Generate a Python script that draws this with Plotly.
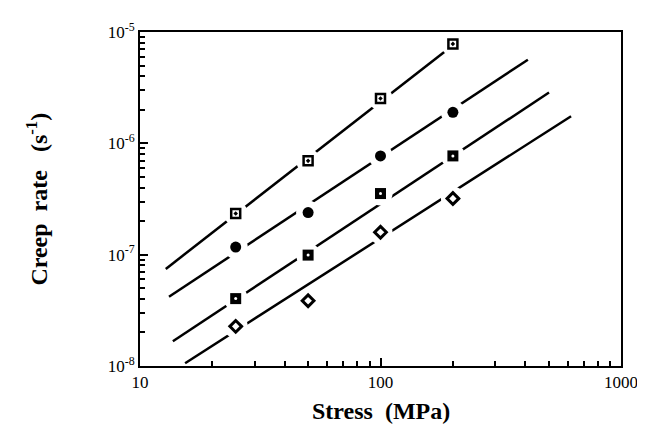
import plotly.graph_objects as go

# stress (MPa) of the measured points
stress = [25, 50, 100, 200]

# creep rate (1/s) for the four series, top to bottom
rate_a = [2.34e-7, 6.96e-7, 2.53e-6, 7.82e-6]
rate_b = [1.17e-7, 2.39e-7, 7.71e-7, 1.90e-6]
rate_c = [4.03e-8, 9.91e-8, 3.54e-7, 7.71e-7]
rate_d = [2.27e-8, 3.86e-8, 1.59e-7, 3.19e-7]

# fitted lines (end points)
fit_a_x = [12.8, 187]
fit_a_y = [7.45e-8, 6.78e-6]
fit_b_x = [13.2, 410]
fit_b_y = [4.19e-8, 5.64e-6]
fit_c_x = [13.7, 502]
fit_c_y = [1.67e-8, 2.86e-6]
fit_d_x = [15.4, 620]
fit_d_y = [1.06e-8, 1.75e-6]

x_ticks = [10, 100, 1000]
x_labels = ["10", "100", "1000"]
y_ticks = [1e-8, 1e-7, 1e-6, 1e-5]
y_labels = ["10<sup>-8</sup>", "10<sup>-7</sup>", "10<sup>-6</sup>", "10<sup>-5</sup>"]

x_minor = [m * 10 ** e for e in (1, 2) for m in range(2, 10)]
y_minor = [m * 10.0 ** e for e in (-8, -7, -6) for m in range(2, 10)]

FONT = "Liberation Serif, Times New Roman, serif"

fig = go.Figure()

# fitted lines on the base axes
for fx, fy in [(fit_a_x, fit_a_y), (fit_b_x, fit_b_y),
               (fit_c_x, fit_c_y), (fit_d_x, fit_d_y)]:
    fig.add_trace(go.Scatter(x=fx, y=fy, mode="lines",
                             line=dict(color="black", width=2.5),
                             hoverinfo="skip"))

# markers go on an overlaying pair of axes so they sit above the lines
# white halo behind each marker so the lines look broken there
for ys in [rate_a, rate_b, rate_c, rate_d]:
    fig.add_trace(go.Scatter(x=stress, y=ys, mode="markers", xaxis="x2", yaxis="y2",
                             marker=dict(symbol="circle", size=24, color="#ffffff",
                                         opacity=1, line=dict(width=0)),
                             hoverinfo="skip"))

# series A: open square with dot
fig.add_trace(go.Scatter(x=stress, y=rate_a, mode="markers", xaxis="x2", yaxis="y2",
                         marker=dict(symbol="square-open-dot", size=9, color="black",
                                     line=dict(width=2.5, color="black"))))
# series B: filled circle
fig.add_trace(go.Scatter(x=stress, y=rate_b, mode="markers", xaxis="x2", yaxis="y2",
                         marker=dict(symbol="circle", size=11, color="black",
                                     line=dict(width=0))))
# series C: filled square with white centre
fig.add_trace(go.Scatter(x=stress, y=rate_c, mode="markers", xaxis="x2", yaxis="y2",
                         marker=dict(symbol="square", size=11, color="black",
                                     line=dict(width=0))))
fig.add_trace(go.Scatter(x=stress, y=rate_c, mode="markers", xaxis="x2", yaxis="y2",
                         marker=dict(symbol="circle", size=3, color="white",
                                     line=dict(width=0))))
# series D: open diamond
fig.add_trace(go.Scatter(x=stress, y=rate_d, mode="markers", xaxis="x2", yaxis="y2",
                         marker=dict(symbol="diamond-open", size=9, color="black",
                                     line=dict(width=3, color="black"))))

fig.update_layout(
    xaxis=dict(type="log", range=[1, 3],
               tickvals=x_ticks, ticktext=x_labels,
               ticks="inside", ticklen=8, tickwidth=1.5, tickcolor="black",
               minor=dict(tickvals=x_minor, ticks="inside", ticklen=5,
                          tickwidth=1.5, tickcolor="black"),
               showline=True, linecolor="black", linewidth=2, mirror=True,
               showgrid=False, zeroline=False,
               tickfont=dict(family=FONT, size=17, color="black")),
    yaxis=dict(type="log", range=[-8, -5],
               tickvals=y_ticks, ticktext=y_labels,
               ticks="inside", ticklen=8, tickwidth=1.5, tickcolor="black",
               minor=dict(tickvals=y_minor, ticks="inside", ticklen=5,
                          tickwidth=1.5, tickcolor="black"),
               showline=True, linecolor="black", linewidth=2, mirror=True,
               showgrid=False, zeroline=False,
               tickfont=dict(family=FONT, size=17, color="black")),
    xaxis2=dict(type="log", range=[1, 3], overlaying="x", visible=False),
    yaxis2=dict(type="log", range=[-8, -5], overlaying="y", visible=False),
)

fig.add_annotation(text="<b>Stress  (MPa)</b>", xref="paper", yref="paper",
                   x=0.5, y=-0.135, xanchor="center", yanchor="middle",
                   showarrow=False, font=dict(family=FONT, size=24, color="black"))
fig.add_annotation(text="<b>Creep  rate   (s<sup>-1</sup>)</b>", xref="paper", yref="paper",
                   x=-0.215, y=0.5, xanchor="center", yanchor="middle", textangle=-90,
                   showarrow=False, font=dict(family=FONT, size=24, color="black"))

fig.update_layout(width=645, height=438,
                  margin=dict(l=132, r=32, t=24, b=80),
                  plot_bgcolor="white", paper_bgcolor="white",
                  showlegend=False)

fig.write_html("out.html")
